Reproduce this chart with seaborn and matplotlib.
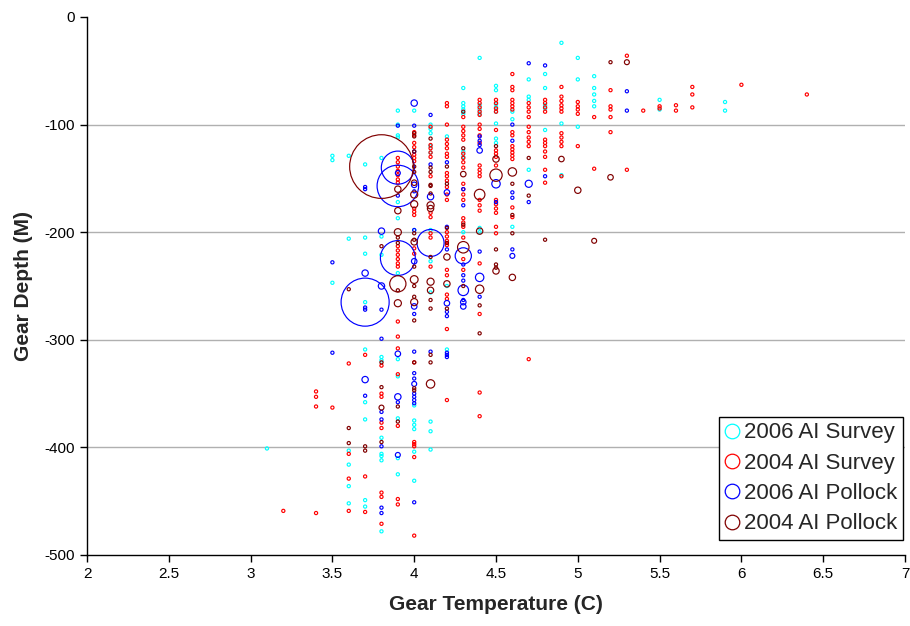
import matplotlib
matplotlib.use("Agg")
import matplotlib.pyplot as plt
from matplotlib.lines import Line2D
from matplotlib.ticker import FuncFormatter
import seaborn as sns
import pandas as pd

# ---- data: gear temperature (C) -> list of gear depths (m) for single-catch hauls ----
SINGLE_CATCH = 0.5

survey2006_cols = [
    (3.1, [-401]),
    (3.5, [-129, -133, -247]),
    (3.6, [-129, -206, -403, -416, -436, -452]),
    (3.7, [-137, -205, -220, -265, -309, -358, -374, -449, -455]),
    (3.8, [-131, -204, -221, -316, -319, -391, -406, -408, -412, -478]),
    (3.9, [-87, -100, -110, -112, -172, -187, -238, -318, -334, -373, -410, -425]),
    (4.0, [-87, -198, -361, -375, -379, -383, -404, -431]),
    (4.1, [-100, -104, -108, -120, -126, -198, -227, -256, -376, -385, -402]),
    (4.2, [-111, -250, -309]),
    (4.3, [-66, -80, -83, -86, -90, -125, -130, -200]),
    (4.4, [-38, -82, -86, -90, -196, -200]),
    (4.5, [-64, -68, -81, -84, -88, -99, -113, -117]),
    (4.6, [-88, -95, -195]),
    (4.7, [-58, -74, -77, -142]),
    (4.8, [-53, -66, -82, -85, -105]),
    (4.9, [-24, -99, -147]),
    (5.0, [-38, -58, -102]),
    (5.1, [-55, -66, -72, -78, -83]),
    (5.5, [-77, -86]),
    (5.9, [-79, -87]),
]
survey2006_bubbles = []

survey2004_cols = [
    (3.2, [-459]),
    (3.4, [-348, -353, -362, -461]),
    (3.5, [-363]),
    (3.6, [-322, -406, -429, -459]),
    (3.7, [-314, -427, -460]),
    (3.8, [-324, -350, -353, -377, -382, -442, -446, -471]),
    (3.9, [-131, -135, -139, -143, -147, -151, -154, -213, -217, -221, -225,
           -229, -232, -283, -297, -308, -332, -380, -448, -453]),
    (4.0, [-107, -110, -117, -121, -128, -131, -134, -178, -181, -184, -215,
           -220, -321, -395, -397, -399, -409, -482]),
    (4.1, [-102, -119, -122, -126, -130, -148, -182, -186, -201, -205, -232]),
    (4.2, [-80, -83, -100, -114, -118, -122, -127, -130, -145, -148, -152,
           -158, -165, -170, -200, -204, -208, -212, -235, -240, -258, -262,
           -290, -356]),
    (4.3, [-93, -102, -106, -110, -114, -127, -131, -135, -140, -155, -160,
           -165, -170, -187, -191, -195, -205, -225, -235]),
    (4.4, [-77, -80, -84, -88, -91, -100, -104, -110, -117, -138, -142, -145,
           -148, -170, -175, -180, -229, -276, -349, -371]),
    (4.5, [-77, -80, -85, -88, -105, -124, -127, -130, -138, -170, -174, -178,
           -182, -195, -201]),
    (4.6, [-53, -65, -68, -77, -80, -83, -86, -107, -110, -120, -123, -126,
           -129, -132, -177, -186]),
    (4.7, [-80, -84, -88, -93, -102, -107, -112, -116, -120, -318]),
    (4.8, [-77, -80, -84, -88, -114, -117, -120, -125, -130, -142, -154]),
    (4.9, [-65, -74, -78, -82, -85, -88, -108, -112, -116, -120, -148]),
    (5.0, [-79, -83, -86, -90, -120]),
    (5.1, [-93, -141]),
    (5.2, [-68, -83, -86, -93, -107]),
    (5.3, [-36, -142]),
    (5.4, [-87]),
    (5.5, [-83, -85]),
    (5.6, [-82, -87]),
    (5.7, [-65, -72, -84]),
    (6.0, [-63]),
    (6.4, [-72]),
]
survey2004_bubbles = []

pollock2006_cols = [
    (3.5, [-228, -312]),
    (3.7, [-158, -160, -270, -272, -352]),
    (3.8, [-272, -299, -367, -374, -399, -456, -461]),
    (3.9, [-101, -166, -358]),
    (4.0, [-101, -125, -162, -198, -276, -311, -331, -336, -350, -353, -356,
           -359, -451]),
    (4.1, [-91, -137, -311]),
    (4.2, [-135, -195, -216, -274, -278, -312, -314, -316]),
    (4.3, [-160, -175, -230, -240, -245, -263]),
    (4.4, [-111, -115, -119, -218, -260]),
    (4.5, [-172]),
    (4.6, [-100, -115, -163, -168, -216]),
    (4.7, [-43, -172]),
    (4.8, [-45, -148]),
    (5.3, [-69, -87]),
]
# (temperature, depth, catch size)
pollock2006_bubbles = [
    (3.7, -265, 114), (3.7, -238, 2), (3.7, -337, 2), (3.8, -199, 2),
    (3.8, -250, 2), (3.9, -140, 54), (3.9, -157, 85), (3.9, -224, 60),
    (3.9, -145, 1.2), (3.9, -313, 1.5), (3.9, -353, 2), (3.9, -407, 1.2),
    (4.0, -80, 2), (4.0, -156, 1.5), (4.0, -227, 1.5), (4.0, -269, 1.5),
    (4.0, -341, 1.2), (4.1, -167, 2), (4.1, -210, 36), (4.2, -163, 1.5),
    (4.2, -266, 1.5), (4.3, -222, 13), (4.3, -254, 5.5), (4.3, -265, 1.5),
    (4.3, -269, 1.5), (4.4, -124, 1.5), (4.4, -242, 3.5), (4.5, -155, 3.5),
    (4.6, -222, 1.2), (4.7, -155, 2.5),
]

pollock2004_cols = [
    (3.6, [-253, -382, -396]),
    (3.7, [-399, -403]),
    (3.8, [-213, -321, -344, -395]),
    (3.9, [-205, -210, -254, -362, -376]),
    (4.0, [-108, -111, -125, -139, -144, -201, -207, -232, -250, -260, -282,
           -321, -345, -347]),
    (4.1, [-113, -140, -144, -156, -157, -164, -223, -263, -271, -314, -321]),
    (4.2, [-139, -155, -196, -210, -271]),
    (4.3, [-88, -122, -193, -250]),
    (4.4, [-268, -294]),
    (4.5, [-120, -216, -230, -233]),
    (4.6, [-155, -184, -201]),
    (4.7, [-131, -166]),
    (4.8, [-207]),
    (5.2, [-42]),
]
pollock2004_bubbles = [
    (3.8, -139, 202), (3.8, -363, 1.2), (3.9, -160, 2), (3.9, -180, 2),
    (3.9, -200, 2.5), (3.9, -248, 13), (3.9, -266, 2.5), (4.0, -154, 1.5),
    (4.0, -165, 2.5), (4.0, -174, 2.5), (4.0, -209, 2), (4.0, -244, 3),
    (4.0, -265, 2.5), (4.1, -175, 2.5), (4.1, -178, 2), (4.1, -246, 2.5),
    (4.1, -254, 2), (4.1, -341, 3.5), (4.2, -223, 2), (4.2, -248, 2),
    (4.3, -146, 1.5), (4.3, -214, 6.5), (4.4, -165, 5.5), (4.4, -199, 2),
    (4.4, -253, 3.5), (4.5, -132, 2), (4.5, -147, 7.5), (4.5, -236, 2),
    (4.6, -144, 3.5), (4.6, -242, 2), (4.9, -132, 1.5), (5.0, -161, 2),
    (5.1, -208, 1.2), (5.2, -149, 1.5), (5.3, -42, 1.2),
]

series_names = ["2006 AI Survey", "2004 AI Survey", "2006 AI Pollock", "2004 AI Pollock"]
series_colors = ["#00FFFF", "#FF0000", "#0000FF", "#800000"]
series_cols = [survey2006_cols, survey2004_cols, pollock2006_cols, pollock2004_cols]
series_bubbles = [survey2006_bubbles, survey2004_bubbles, pollock2006_bubbles, pollock2004_bubbles]

x_ticks = [2, 2.5, 3, 3.5, 4, 4.5, 5, 5.5, 6, 6.5, 7]
y_ticks = [0, -100, -200, -300, -400, -500]


def build_frame(cols, bubbles, name):
    rows = []
    for temp, depths in cols:
        for d in depths:
            rows.append((temp, d, SINGLE_CATCH))
    rows.extend(bubbles)
    df = pd.DataFrame(rows, columns=["temp", "depth", "size"])
    df["series"] = name
    return df


frames = [build_frame(c, b, n) for c, b, n in zip(series_cols, series_bubbles, series_names)]

# ---- figure ----
sns.set_theme(style="white")
plt.rcParams["font.family"] = ["Liberation Sans", "DejaVu Sans"]
plt.rcParams["axes.unicode_minus"] = False

fig = plt.figure(figsize=(9.10, 6.26), dpi=100)
ax = fig.add_axes([87 / 910, 1 - 555 / 626, (905 - 87) / 910, (555 - 17) / 626])

SIZE_MAX = 200
AREA_MAX = 10.5 * SIZE_MAX  # bubble area proportional to catch size

for df, color in zip(frames, series_colors):
    sns.scatterplot(data=df, x="temp", y="depth", size="size",
                    sizes=(0, AREA_MAX), size_norm=(0, SIZE_MAX),
                    color=color, legend=False, ax=ax, zorder=3)
    coll = ax.collections[-1]
    coll.set_facecolor("none")
    coll.set_edgecolor(color)
    coll.set_linewidth(0.85)

ax.set_xlim(2, 7)
ax.set_ylim(-500, 0)
ax.set_xticks(x_ticks)
ax.set_yticks(y_ticks)
ax.xaxis.set_major_formatter(FuncFormatter(lambda v, p: f"{v:g}"))
ax.yaxis.set_major_formatter(FuncFormatter(lambda v, p: f"{v:g}"))
ax.tick_params(axis="both", which="major", direction="out", length=5, width=1,
               colors="black", labelsize=11, pad=4, bottom=True, left=True)

ax.grid(axis="y", color="#B0B0B0", linewidth=1.0, zorder=0)
ax.set_axisbelow(True)
for val, gl in zip(y_ticks, ax.yaxis.get_gridlines()):
    if val in (0, -500):
        gl.set_visible(False)

for side in ["top", "right"]:
    ax.spines[side].set_visible(False)
for side in ["left", "bottom"]:
    ax.spines[side].set_color("black")
    ax.spines[side].set_linewidth(1.0)

ax.set_xlabel("Gear Temperature (C)", fontsize=15, fontweight="bold", labelpad=10)
ax.set_ylabel("Gear Depth (M)", fontsize=15, fontweight="bold", labelpad=8)

handles = [Line2D([], [], linestyle="none", marker="o", markersize=10.5,
                  markerfacecolor="none", markeredgecolor=c, markeredgewidth=0.9)
           for c in series_colors]
leg = ax.legend(handles, series_names, loc="lower right",
                bbox_to_anchor=(903 / 910, 1 - 540 / 626), bbox_transform=fig.transFigure,
                borderaxespad=0, fontsize=16, frameon=True, fancybox=False,
                edgecolor="black", framealpha=1, handlelength=0.7,
                handletextpad=0.2, labelspacing=0.42, borderpad=0.25)
leg.get_frame().set_linewidth(1.0)

fig.savefig("out.png", dpi=100)
